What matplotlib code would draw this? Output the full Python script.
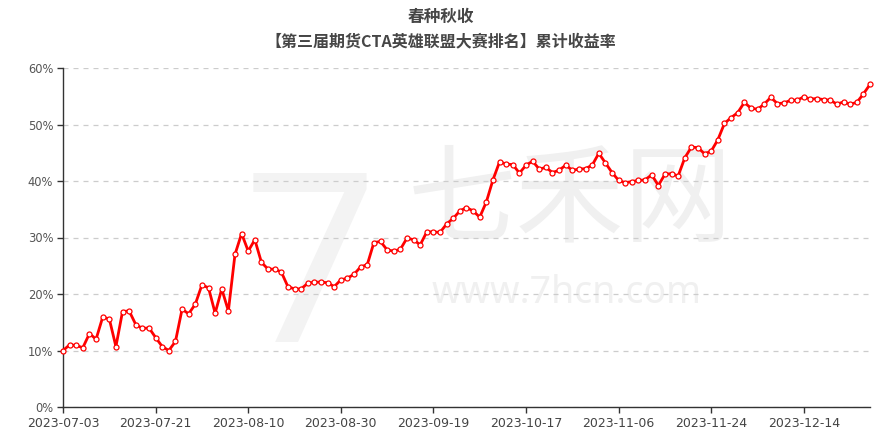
import matplotlib
matplotlib.use('Agg')
import matplotlib.pyplot as plt
from matplotlib.ticker import FuncFormatter

# cumulative return (%) per trading day, 2023-07-03 onwards
returns = [
    10.0, 11.0, 10.9, 10.5, 13.0, 12.0, 15.9, 15.6, 10.7, 16.9,
    17.0, 14.6, 13.9, 14.0, 12.3, 10.7, 10.0, 11.6, 17.3, 16.5,
    18.2, 21.6, 21.1, 16.6, 20.9, 17.0, 27.0, 30.7, 27.6, 29.6,
    25.6, 24.4, 24.4, 23.9, 21.3, 20.9, 20.9, 21.9, 22.1, 22.1,
    22.0, 21.3, 22.5, 22.8, 23.5, 24.8, 25.2, 29.1, 29.3, 27.8,
    27.6, 27.9, 29.9, 29.6, 28.7, 31.0, 31.0, 30.9, 32.4, 33.4,
    34.7, 35.3, 34.7, 33.6, 36.3, 40.2, 43.4, 43.0, 42.9, 41.4,
    42.8, 43.5, 42.1, 42.4, 41.5, 41.9, 42.8, 41.9, 42.1, 42.2,
    42.8, 44.9, 43.2, 41.5, 40.1, 39.7, 39.9, 40.1, 40.2, 41.1,
    39.2, 41.2, 41.3, 40.9, 44.1, 46.0, 45.9, 44.8, 45.3, 47.3,
    50.2, 51.2, 52.1, 53.9, 52.9, 52.7, 53.6, 54.8, 53.7, 53.8,
    54.3, 54.3, 54.9, 54.5, 54.6, 54.4, 54.3, 53.6, 54.0, 53.6,
    53.9, 55.4, 57.1,
]
tick_labels = ['2023-07-03', '2023-07-21', '2023-08-10', '2023-08-30',
               '2023-09-19', '2023-10-17', '2023-11-06', '2023-11-24',
               '2023-12-14']
TICK_STEP = 14
y_ticks = [0, 10, 20, 30, 40, 50, 60]

TITLE = '春种秋收'
SUBTITLE = '【第三届期货CTA英雄联盟大赛排名】累计收益率'
W, H = 881, 430

plt.rcParams['font.family'] = ['DejaVu Sans', 'Noto Sans CJK SC']

fig = plt.figure(figsize=(W / 100, H / 100), dpi=100)
ax = fig.add_axes([63 / W, 1 - 407 / H, (870 - 63) / W, (407 - 68) / H])
ax.patch.set_alpha(0)

# watermark
wm = '#f0f0f0'
fig.text(570 / W, 1 - 203 / H, '七禾网', ha='center', va='center',
         fontsize=78, color=wm, family='Noto Sans CJK SC', zorder=-5)
fig.text(567 / W, 1 - 293 / H, 'www.7hcn.com', ha='center', va='center',
         fontsize=27, color=wm, family='Noto Sans', zorder=-5)
fig.text(310 / W, 1 - 280 / H, '7', ha='center', va='center',
         fontsize=170, fontweight='bold', color='#f3f3f3',
         family='Noto Sans', zorder=-6)

x = list(range(len(returns)))
ax.plot(x, returns, color='#ff0000', lw=2, marker='o', markersize=3.6,
        markerfacecolor='white', markeredgecolor='#ff0000',
        markeredgewidth=0.9, zorder=3, clip_on=False)

ax.set_xlim(0, len(returns) - 1)
ax.set_ylim(0, 60)
ax.set_xticks([i * TICK_STEP for i in range(len(tick_labels))])
ax.set_xticklabels(tick_labels)
ax.set_yticks(y_ticks)
ax.yaxis.set_major_formatter(FuncFormatter(lambda v, p: f'{v:.0f}%'))

ax.grid(axis='y', color='#cccccc', linestyle=(0, (4, 4)), lw=0.9)
ax.set_axisbelow(True)
for s in ['top', 'right']:
    ax.spines[s].set_visible(False)
for s in ['left', 'bottom']:
    ax.spines[s].set_color('#333333')
    ax.spines[s].set_linewidth(1)

ax.tick_params(axis='y', length=4, width=1, color='#333333',
               labelsize=8.3, labelcolor='#555555', pad=3)
ax.tick_params(axis='x', length=4, width=1, color='#333333',
               labelsize=9, labelcolor='#444444', pad=3)

fig.text(0.5, 1 - 17 / H, TITLE, ha='center', va='center', fontsize=12,
         fontweight='bold', color='#464646', family='Noto Sans CJK SC')
fig.text(0.5, 1 - 41 / H, SUBTITLE, ha='center', va='center', fontsize=11.5,
         fontweight='bold', color='#464646',
         family=['Noto Sans CJK SC', 'DejaVu Sans'])

fig.savefig('out.png', dpi=100)
